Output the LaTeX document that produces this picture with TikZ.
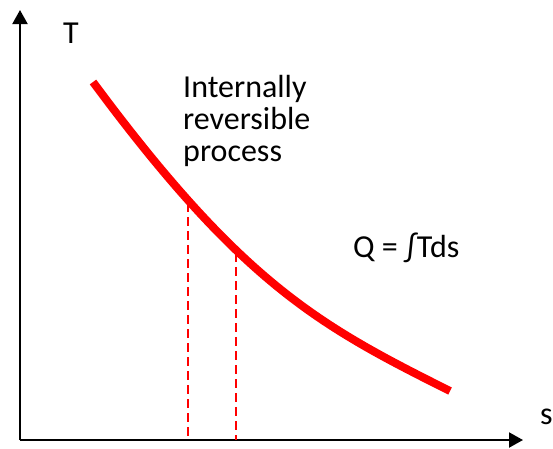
\documentclass[tikz,border=0pt]{standalone}
\usepackage{fontspec}
\setmainfont{Carlito}
\usepackage{tikz}
\usetikzlibrary{arrows.meta,positioning}

\begin{document}
\begin{tikzpicture}[x=1pt,y=-1pt,
        axis/.style={line width=2pt,-{Triangle[length=14pt,width=15pt]}},
        curve/.style={red,line width=8pt},
        drop/.style={red,line width=2pt,dash pattern=on 9pt off 5pt},
        lbl/.style={inner sep=0pt,font=\fontsize{32}{32}\selectfont}]

  \useasboundingbox (0,0) rectangle (553,448);

  \coordinate (o) at (20,440);
  \coordinate (ytop) at (20,10);
  \coordinate (xend) at (523,440);
  \coordinate (start) at (93,82);
  \coordinate (stop) at (450,391);
  \coordinate (a) at (188,203);
  \coordinate (b) at (236,253);
  \coordinate (a0) at (188,440);
  \coordinate (b0) at (236,440);

  \draw[axis] (o) -- (ytop);
  \draw[axis] (o) -- (xend);

  \node[lbl,anchor=base west] (tlbl) at (63,43) {T};
  \node[lbl,anchor=base west] (slbl) at (540,424) {s};

  \draw[curve] (start) .. controls (243,284.5) and (320,326) .. (stop);

  \draw[drop] (a) -- (a0);
  \draw[drop] (b) -- (b0);

  \node[lbl,anchor=north west,align=left] (proc) at (183,75)
        {Internally\\reversible\\process};
  \node[lbl,anchor=base west] (heat) at (353,257) {Q = ∫Tds};

\end{tikzpicture}
\end{document}
